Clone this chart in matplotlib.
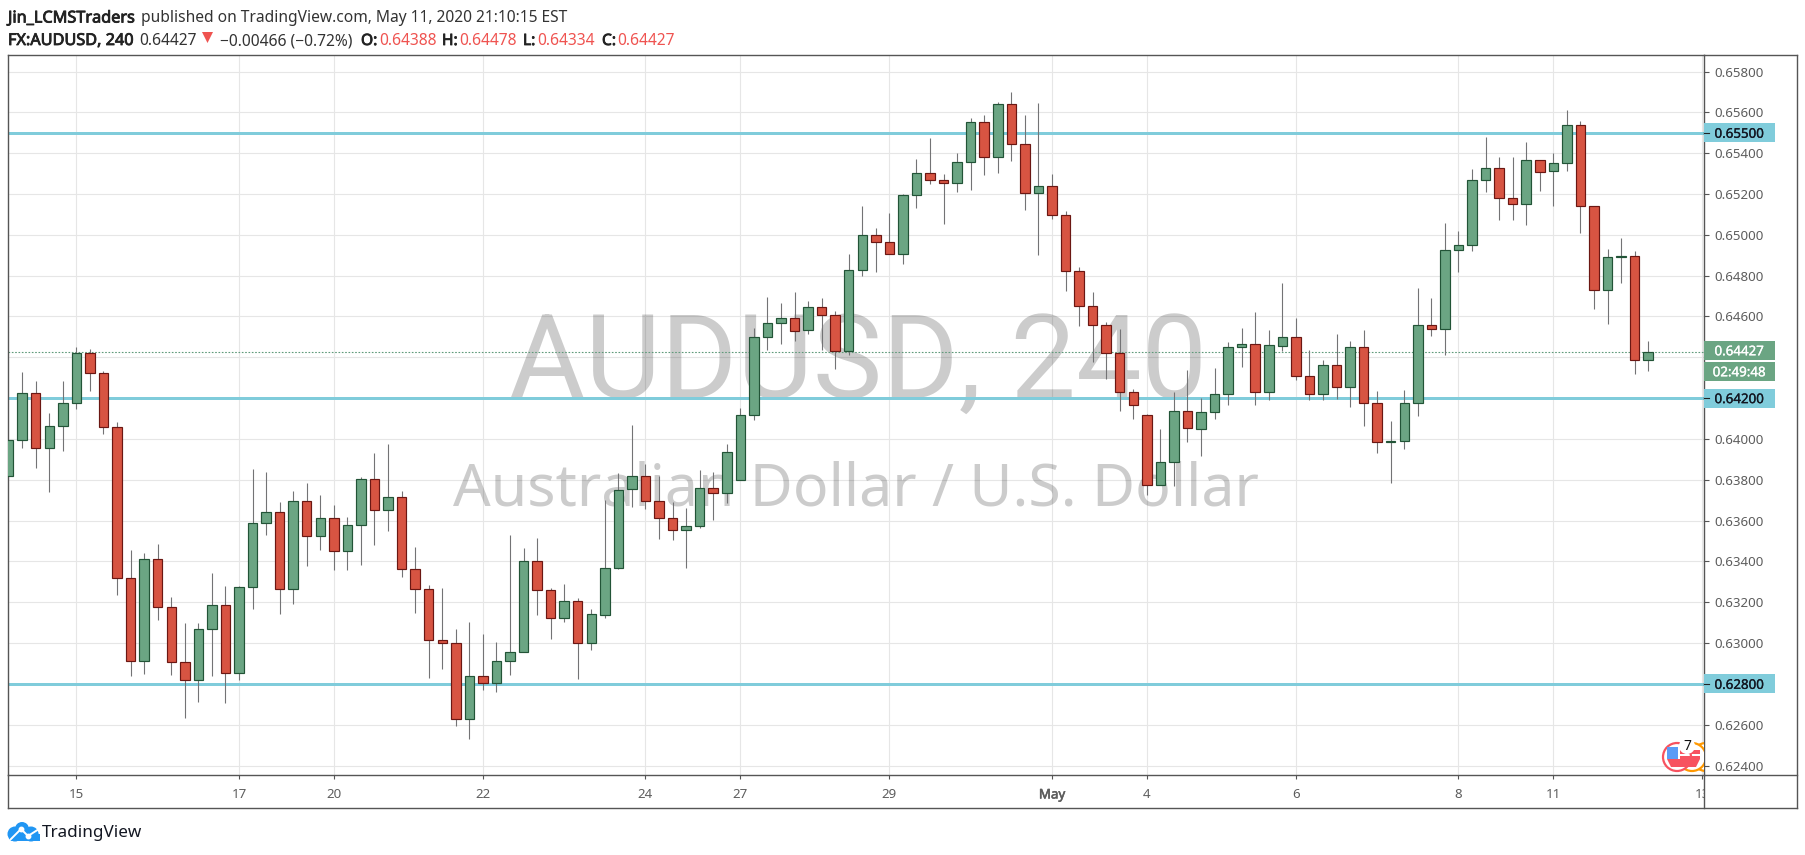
import matplotlib
matplotlib.use("Agg")
import matplotlib.pyplot as plt
import matplotlib.patheffects as pe
from matplotlib.patches import Rectangle, Circle, Polygon
from matplotlib.lines import Line2D
from matplotlib.transforms import blended_transform_factory

plt.rcParams['font.family'] = ['Noto Sans', 'DejaVu Sans']

# ---------------- data (price × 1e5) ----------------
opens = [63817,63993,64224,63954,64062,64175,64420,64322,64057,63317,62911,63410,63175,62906,62817,63067,
 63185,62852,63273,63587,63641,63263,63694,63523,63611,63449,63577,63802,63650,63714,63361,63263,
 63013,62999,62626,62837,62803,62911,62955,63401,63258,63121,63205,62999,63138,63368,63753,63816,
 63698,63615,63556,63575,63762,63737,63800,64116,64498,64567,64591,64532,64645,64606,64429,64826,
 64998,64963,64905,65194,65301,65267,65252,65355,65551,65380,65640,65444,65204,65238,65096,64821,
 64650,64557,64420,64228,64116,63773,63885,64135,64050,64130,64219,64449,64464,64232,64457,64498,
 64307,64222,64361,64253,64449,64175,63984,63988,64175,64557,64537,64924,64949,65267,65326,65179,
 65150,65365,65311,65351,65537,65140,64728,64890,64895,64388]
highs = [63993,64328,64284,64127,64284,64449,64441,64331,64081,63456,63440,63485,63226,63098,63098,63343,
 63280,63280,63853,63838,63691,63745,63784,63725,63676,63618,63814,63931,63975,63745,63471,63283,
 63270,63069,63103,63044,63005,63530,63466,63515,63268,63289,63219,63167,63700,63832,64068,63877,
 63818,63690,63660,63847,63840,63975,64150,64544,64696,64666,64720,64676,64691,64627,64906,65141,
 65034,65107,65199,65370,65475,65298,65400,65571,65587,65649,65698,65587,65644,65298,65115,64841,
 64720,64571,64539,64243,64121,64047,64228,64338,64199,64348,64473,64544,64622,64534,64764,64593,
 64436,64387,64514,64480,64534,64235,64088,64240,64740,64691,65058,65019,65323,65480,65382,65382,
 65455,65365,65401,65612,65558,65140,64929,64985,64919,64478]
lows = [63817,63957,63859,63742,63943,64148,64237,64026,63237,62840,62850,63115,62845,62635,62713,62840,
 62708,62821,63169,63531,63144,63193,63379,63458,63360,63360,63384,63482,63551,63325,63149,62831,
 62875,62595,62532,62772,62762,62845,62955,63139,63022,63105,62826,62968,63123,63362,63667,63656,
 63509,63504,63368,63562,63602,63685,63800,64095,64437,64467,64482,64516,64437,64344,64413,64800,
 64820,64905,64859,65133,65251,65055,65212,65221,65295,65305,65364,65123,64903,65076,64727,64555,
 64379,64295,64139,64099,63727,63773,63771,63987,63918,64098,64166,64353,64168,64193,64431,64291,
 64193,64193,64198,64158,64065,63933,63786,63953,64114,64506,64411,64820,64921,65212,65075,65075,
 65050,65217,65143,65315,65011,64638,64565,64766,64320,64334]
closes = [63993,64224,63954,64062,64175,64420,64322,64057,63317,62911,63410,63175,62906,62817,63067,63185,
 62852,63273,63587,63641,63263,63694,63523,63611,63449,63577,63802,63650,63714,63361,63263,63013,
 62999,62626,62837,62803,62911,62955,63401,63258,63121,63205,62999,63141,63370,63752,63816,63696,
 63615,63556,63575,63762,63737,63938,64116,64498,64567,64591,64531,64645,64606,64429,64826,64998,
 64963,64905,65194,65301,65267,65252,65355,65551,65380,65640,65444,65204,65238,65096,64821,64650,
 64557,64420,64228,64165,63773,63885,64135,64052,64130,64219,64449,64464,64232,64459,64498,64307,
 64222,64361,64253,64449,64175,63984,63988,64175,64557,64537,64924,64949,65267,65326,65179,65150,
 65365,65306,65351,65537,65140,64728,64890,64895,64388,64427]
opens = [v / 1e5 for v in opens]
highs = [v / 1e5 for v in highs]
lows = [v / 1e5 for v in lows]
closes = [v / 1e5 for v in closes]

levels = [0.655, 0.642, 0.628]
last_price = 0.64427
price_ticks = [0.658, 0.656, 0.655, 0.654, 0.652, 0.650, 0.648, 0.646, 0.644, 0.642,
               0.640, 0.638, 0.636, 0.634, 0.632, 0.630, 0.628, 0.626, 0.624]
grid_prices = [0.658, 0.656, 0.654, 0.652, 0.650, 0.648, 0.646, 0.644, 0.642,
               0.640, 0.638, 0.636, 0.634, 0.632, 0.630, 0.628, 0.626, 0.624]
hidden_labels = [0.655, 0.644, 0.642, 0.628]
date_bars = [5, 17, 24, 35, 47, 54, 65, 77, 84, 95, 107, 114, 125]
date_labels = ['15', '17', '20', '22', '24', '27', '29', 'May', '4', '6', '8', '11', '13']
countdown = '02:49:48'

# ---------------- figure ----------------
W, H = 1805, 855
fig = plt.figure(figsize=(W / 100, H / 100), dpi=100, facecolor='white')
L, R, T, B = 8, 1704, 55, 775.3
RIGHT = 1797
BOTTOM = 808.3
ax = fig.add_axes([L / W, 1 - B / H, (R - L) / W, (B - T) / H])
ax.set_xlim(-0.048, 125.12)
ax.set_ylim(0.62352, 0.65881)

FG = '#555555'
for s in ax.spines.values():
    s.set_color(FG)
    s.set_linewidth(1.0)
ax.set_axisbelow(True)
for g in grid_prices:
    ax.axhline(g, color='#e6e6e6', lw=0.8, zorder=0.5)
for d in date_bars:
    ax.axvline(d, color='#e6e6e6', lw=0.8, zorder=0.5)

def fake_bold(t, color, w=0.55):
    t.set_path_effects([pe.withStroke(linewidth=w, foreground=color)])

# ticks
ax.yaxis.tick_right()
ax.set_yticks(price_ticks)
ax.set_yticklabels(['' if p in hidden_labels else f'{p:.5f}' for p in price_ticks])
ax.tick_params(axis='y', length=3.6, width=0.8, color=FG, labelcolor='#5d5d5d', labelsize=9.6, pad=4.2)
ax.set_xticks(date_bars)
ax.set_xticklabels(date_labels)
ax.tick_params(axis='x', length=3, width=0.8, color=FG, labelcolor='#5d5d5d', labelsize=9.6, pad=6.5)
clip_rect = matplotlib.transforms.Bbox([[0, 0], [R, H]])
for t, name in zip(ax.get_xticklabels(), date_labels):
    t.set_clip_on(True)
    t.set_clip_box(clip_rect)
    if name == 'May':
        fake_bold(t, '#5d5d5d', 0.4)

# watermark
ax.text((858 - L) / (R - L), 1 - (398 - T) / (B - T), 'AUDUSD, 240', transform=ax.transAxes,
        fontsize=84, family='Roboto', color='black', alpha=0.2, ha='center', va='baseline', zorder=1)
ax.text((856 - L) / (R - L), 1 - (505.7 - T) / (B - T), 'Australian Dollar / U.S. Dollar', transform=ax.transAxes,
        fontsize=42.5, color='black', alpha=0.2, ha='center', va='baseline', zorder=1)

# levels and last-price line
for lv in levels:
    ax.axhline(lv, color='#80ccdb', lw=2.16, zorder=2)
ax.axhline(last_price, color='#5f9a7a', lw=0.8, ls=(0, (1.5, 1.5)), zorder=2.5)

# candles
xs = list(range(len(opens)))
up = [c >= o for o, c in zip(opens, closes)]
ax.vlines(xs, lows, highs, colors='#737375', lw=0.8, zorder=3)
ax.bar(xs, [abs(c - o) for o, c in zip(opens, closes)], bottom=[min(o, c) for o, c in zip(opens, closes)],
       width=0.70, color=['#6ba583' if u else '#d75442' for u in up],
       edgecolor=['#225437' if u else '#6b1713' for u in up], linewidth=0.85, zorder=4)

# coloured price tags
tag_tr = blended_transform_factory(ax.transAxes, ax.transData)
tag_w = 70.5 / (R - L)
hpx = 1 / 20410
def tag(price, bg, txt, fg, dy=0.0, h=19):
    y = price - dy * hpx
    ax.add_patch(Rectangle((1, y - h / 2 * hpx), tag_w, h * hpx, transform=tag_tr, facecolor=bg,
                           edgecolor='none', clip_on=False, zorder=5))
    tx = ax.text(1 + 35.2 / (R - L), y, txt, transform=tag_tr, color=fg, fontsize=9.6, ha='center',
            va='center_baseline', clip_on=False, zorder=6)
    fake_bold(tx, fg, 0.2)
for lv in levels:
    tag(lv, '#80ccdb', f'{lv:.5f}', '#131722')
tag(last_price, '#6ba583', f'{last_price:.5f}', 'white', dy=-1.5, h=19)
tag(last_price, '#6ba583', countdown, 'white', dy=19.5, h=19)
for lv in levels:
    ax.plot([1, 1 + 5 / (R - L)], [lv, lv], transform=tag_tr, color='#222222', lw=0.8, clip_on=False, zorder=7)

# outer frame
def fx(x): return x / W
def fy(y): return 1 - y / H
for (x0, y0, x1, y1) in [(L, B, L, BOTTOM), (L, BOTTOM, RIGHT, BOTTOM), (RIGHT, T, RIGHT, BOTTOM),
                         (R, T, RIGHT, T), (R, B, RIGHT, B), (R, B, R, BOTTOM)]:
    fig.add_artist(Line2D([fx(x0), fx(x1)], [fy(y0), fy(y1)], color=FG, lw=1.0, transform=fig.transFigure))

# header
def put(x, y, s, color='#333333', bold=False, size=11.2):
    t = fig.text(fx(x), fy(y), s, color=color, fontsize=size, va='center_baseline', ha='left')
    if bold:
        fake_bold(t, color, 0.6)
    return t
put(8, 16.5, 'Jin_LCMSTraders', '#222222', True, 11.7)
put(141, 16.5, 'published on TradingView.com, May 11, 2020 21:10:15 EST')
put(8, 39, 'FX:AUDUSD, 240', '#222222', True, 11.7)
put(139, 39, '0.64427')
fig.add_artist(Polygon([[fx(202), fy(32)], [fx(213), fy(32)], [fx(207.5), fy(43)]], closed=True,
                       facecolor='#ef5350', edgecolor='none', transform=fig.transFigure))
put(220, 39, '\u22120.00466 (\u22120.72%)')
red = '#ef5350'
for lab, lx, val, vx in [('O:', 361, '0.64388', 379), ('H:', 442, '0.64478', 459),
                         ('L:', 523, '0.64334', 537.5), ('C:', 602, '0.64427', 617)]:
    put(lx, 39, lab, '#222222', True)
    put(vx, 39, val, red)

# event flags, in a pixel-positioned overlay clipped at the price axis
ov = fig.add_axes([1660 / W, 1 - 775 / H, (R - 1660) / W, 45 / H])
ov.set_xlim(1660, R); ov.set_ylim(775, 730); ov.axis('off'); ov.patch.set_alpha(0)
for cx, col in [(1706, '#ff9800'), (1692, '#ff9800'), (1677, '#f7525f')]:
    ov.add_patch(Circle((cx, 757), 14, facecolor='white', edgecolor=col, lw=1.6))
ov.add_patch(Rectangle((1667, 747), 11, 12, facecolor='#5b9cf6', edgecolor='none'))
ov.add_patch(Polygon([[1667, 759], [1700, 759], [1696, 767], [1671, 767]], facecolor='#f7525f', edgecolor='none'))
ov.add_patch(Rectangle((1680, 750), 20, 4, facecolor='#f7525f', edgecolor='none'))
ov.add_patch(Rectangle((1680, 756), 20, 3, facecolor='#f7525f', edgecolor='none'))
ov.add_patch(Circle((1687, 746), 8, facecolor='white', edgecolor='none'))
ov.text(1687, 746, '7', fontsize=10, color='#111111', ha='center', va='center')

# logo
lg = fig.add_axes([0, 1 - 850 / H, 60 / W, 35 / H])
lg.set_xlim(0, 60); lg.set_ylim(850, 815); lg.axis('off')
blue = '#2196f3'
for c, r in [((15, 834), 7.5), ((22, 829), 7), ((31, 834), 7.5), ((36, 837), 4)]:
    lg.add_patch(Circle(c, r, facecolor=blue, edgecolor='none'))
lg.add_patch(Rectangle((9, 834), 31, 7, facecolor=blue, edgecolor='none'))
lg.plot([9, 21, 28, 39], [841, 829, 836, 829], color='white', lw=1.4)
lg.plot([21, 28], [829, 836], 'o', color='white', ms=3.2)
fig.text(fx(42), fy(831), 'TradingView', fontsize=12.3, color='#131722', va='center_baseline', ha='left')

fig.savefig('out.png', dpi=100)
